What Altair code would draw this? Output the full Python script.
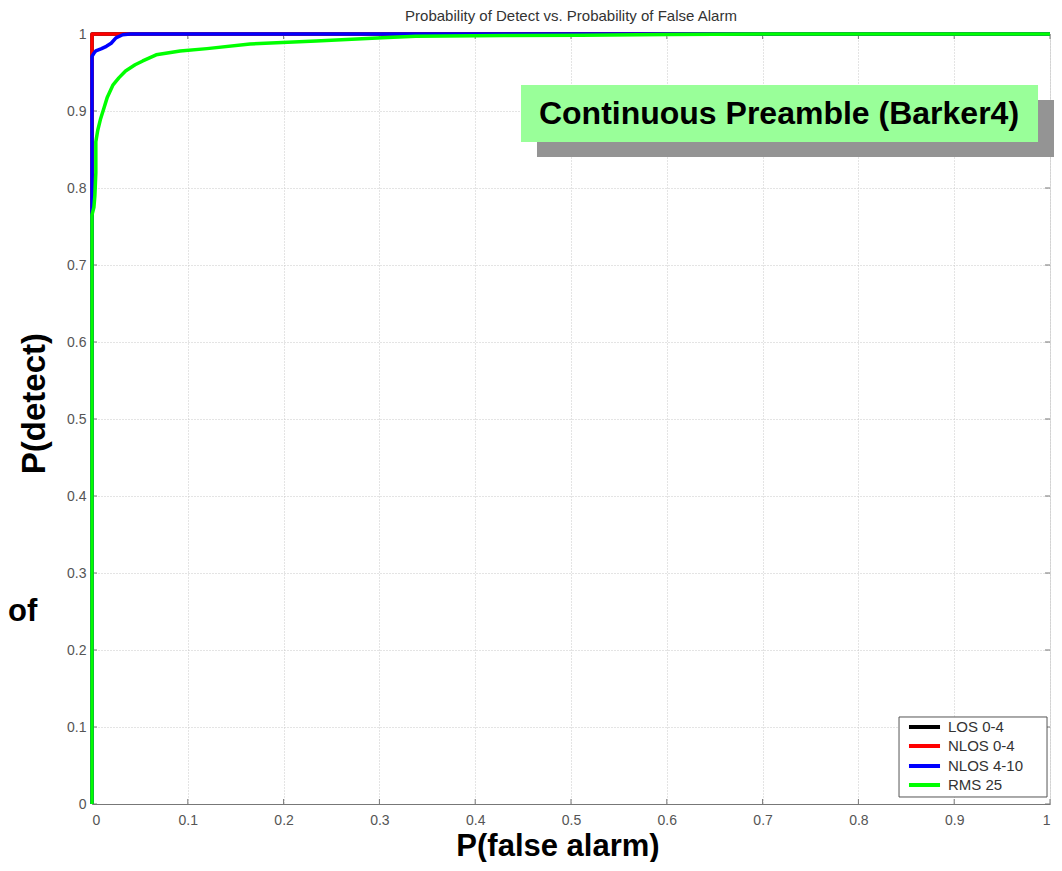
import altair as alt
import pandas as pd

# ---- data ----
los_x = [0.0, 0.0, 1.0]
los_y = [0.0, 1.0, 1.0]

nlos04_x = [0.0, 0.0, 1.0]
nlos04_y = [0.0, 1.0, 1.0]

nlos410_x = [0.0, 0.0, 0.002, 0.004, 0.010, 0.015, 0.020, 0.025, 0.032, 0.040, 0.33, 1.0]
nlos410_y = [0.0, 0.971, 0.975, 0.978, 0.981, 0.984, 0.988, 0.995, 0.999, 1.0, 1.0, 1.0]

rms25_x = [0.0, 0.0, 0.002, 0.003, 0.004, 0.004, 0.006, 0.009, 0.0125, 0.016, 0.022, 0.028,
           0.035, 0.045, 0.053, 0.067, 0.077, 0.092, 0.12, 0.165, 0.234, 0.303, 0.338,
           0.43, 0.51, 0.6, 0.7, 1.0]
rms25_y = [0.0, 0.765, 0.775, 0.79, 0.82, 0.86, 0.875, 0.89, 0.904, 0.918, 0.934, 0.943,
           0.952, 0.960, 0.965, 0.973, 0.975, 0.978, 0.981, 0.987, 0.991, 0.995, 0.997,
           0.998, 0.9985, 0.9995, 1.0, 1.0]

series_names = ["LOS 0-4", "NLOS 0-4", "NLOS 4-10", "RMS 25"]
series_colors = ["#000000", "#ff0000", "#0000ff", "#00ff00"]
series_x = [los_x, nlos04_x, nlos410_x, rms25_x]
series_y = [los_y, nlos04_y, nlos410_y, rms25_y]

tick_values = [0.0, 0.1, 0.2, 0.3, 0.4, 0.5, 0.6, 0.7, 0.8, 0.9, 1.0]

chart_title = "Probability of Detect vs. Probability of False Alarm"
x_title = "P(false alarm)"
y_title = "P(detect)"
box_text = "Continuous Preamble (Barker4)"
stray_text = "of"

# annotation geometry in data units
box = dict(x=0.4478, x2=0.9875, y=0.9338, y2=0.8597)
shadow = dict(x=0.4645, x2=1.0052, y=0.9143, y2=0.8403)
box_label = dict(x=0.7171, y=0.8965)
legend_box = dict(x=0.8424, x2=0.9969, y=0.1130, y2=0.0091)
legend_rows_y = [0.1000, 0.0753, 0.0494, 0.0247]
legend_line_x = (0.8528, 0.8852)
legend_text_x = 0.8935
title_pos = dict(x=0.5, y=1.0169)
x_title_pos = dict(x=0.4864, y=-0.056)
y_title_pos = dict(x=-0.0595, y=0.52)
stray_pos = dict(x=-0.0877, y=0.249)

W, H = 958, 770
xs = alt.Scale(domain=[0, 1], nice=False, zero=False)
ys = alt.Scale(domain=[0, 1], nice=False, zero=False)

label_expr = "datum.value == 0 ? '0' : datum.value == 1 ? '1' : format(datum.value, '.1f')"

# invisible base layer carrying axes + grid
axes_df = pd.DataFrame({"x": tick_values, "y": tick_values})
axes_layer = alt.Chart(axes_df).mark_point(opacity=0).encode(
    x=alt.X("x:Q", scale=xs, title=None,
            axis=alt.Axis(values=tick_values, labelExpr=label_expr, grid=True, ticks=False,
                          domain=True, domainColor="#777", labelPadding=9,
                          labelFontSize=14, labelColor="#555", labelFont="Liberation Sans",
                          gridColor="#c8c8c8", gridDash=[1, 2])),
    y=alt.Y("y:Q", scale=ys, title=None,
            axis=alt.Axis(values=tick_values, labelExpr=label_expr, grid=True, ticks=False,
                          domain=False, labelPadding=6,
                          labelFontSize=14, labelColor="#555", labelFont="Liberation Sans",
                          gridColor="#c8c8c8", gridDash=[1, 2])),
)

# inward ticks (bottom, top, left, right)
tk = 5.0
tick_rows = []
for v in tick_values:
    tick_rows.append(dict(x=v, x2=v, y=0.0, y2=tk / H))
    tick_rows.append(dict(x=v, x2=v, y=1.0, y2=1.0 - tk / H))
    tick_rows.append(dict(x=0.0, x2=tk / W, y=v, y2=v))
    tick_rows.append(dict(x=1.0, x2=1.0 - tk / W, y=v, y2=v))
ticks_layer = alt.Chart(pd.DataFrame(tick_rows)).mark_rule(color="#777", strokeWidth=1).encode(
    x=alt.X("x:Q", scale=xs), x2="x2:Q", y=alt.Y("y:Q", scale=ys), y2="y2:Q"
)

line_layers = []
for name, col, sx, sy in zip(series_names, series_colors, series_x, series_y):
    df = pd.DataFrame({"x": sx, "y": sy, "i": list(range(len(sx)))})
    line_layers.append(
        alt.Chart(df).mark_line(color=col, strokeWidth=3.5, strokeJoin="round").encode(
            x=alt.X("x:Q", scale=xs), y=alt.Y("y:Q", scale=ys), order="i:Q"
        )
    )

# annotation box with shadow
shadow_layer = alt.Chart(pd.DataFrame([shadow])).mark_rect(color="#949494").encode(
    x=alt.X("x:Q", scale=xs), x2="x2:Q", y=alt.Y("y:Q", scale=ys), y2="y2:Q"
)
box_layer = alt.Chart(pd.DataFrame([box])).mark_rect(color="#99ff99").encode(
    x=alt.X("x:Q", scale=xs), x2="x2:Q", y=alt.Y("y:Q", scale=ys), y2="y2:Q"
)
box_text_layer = alt.Chart(pd.DataFrame([dict(box_label, t=box_text)])).mark_text(
    font="Liberation Sans", fontWeight="bold", fontSize=32, color="#000", align="center",
    baseline="middle"
).encode(x=alt.X("x:Q", scale=xs), y=alt.Y("y:Q", scale=ys), text="t:N")

# legend built by hand
leg_box_layer = alt.Chart(pd.DataFrame([legend_box])).mark_rect(
    fill="#ffffff", stroke="#555", strokeWidth=1
).encode(x=alt.X("x:Q", scale=xs), x2="x2:Q", y=alt.Y("y:Q", scale=ys), y2="y2:Q")
leg_df = pd.DataFrame({
    "name": series_names, "color": series_colors, "y": legend_rows_y,
    "x": [legend_line_x[0]] * 4, "x2": [legend_line_x[1]] * 4, "tx": [legend_text_x] * 4,
})
leg_lines = alt.Chart(leg_df).mark_rule(strokeWidth=4).encode(
    x=alt.X("x:Q", scale=xs), x2="x2:Q", y=alt.Y("y:Q", scale=ys),
    color=alt.Color("color:N", scale=None),
)
leg_text = alt.Chart(leg_df).mark_text(
    font="Liberation Sans", fontSize=15, color="#333", align="left", baseline="middle"
).encode(x=alt.X("tx:Q", scale=xs), y=alt.Y("y:Q", scale=ys), text="name:N")

# titles and stray slide text
title_layer = alt.Chart(pd.DataFrame([dict(title_pos, t=chart_title)])).mark_text(
    font="Liberation Sans", fontSize=15, color="#333", align="center", baseline="alphabetic"
).encode(x=alt.X("x:Q", scale=xs), y=alt.Y("y:Q", scale=ys), text="t:N")
x_title_layer = alt.Chart(pd.DataFrame([dict(x_title_pos, t=x_title)])).mark_text(
    font="Liberation Sans", fontWeight="bold", fontSize=31, color="#000",
    align="center", baseline="middle"
).encode(x=alt.X("x:Q", scale=xs), y=alt.Y("y:Q", scale=ys), text="t:N")
y_title_layer = alt.Chart(pd.DataFrame([dict(y_title_pos, t=y_title)])).mark_text(
    font="Liberation Sans", fontWeight="bold", fontSize=33, color="#000",
    align="center", baseline="middle", angle=270
).encode(x=alt.X("x:Q", scale=xs), y=alt.Y("y:Q", scale=ys), text="t:N")
of_layer = alt.Chart(pd.DataFrame([dict(stray_pos, t=stray_text)])).mark_text(
    font="Liberation Sans", fontWeight="bold", fontSize=31, color="#000",
    align="left", baseline="middle"
).encode(x=alt.X("x:Q", scale=xs), y=alt.Y("y:Q", scale=ys), text="t:N")

chart = alt.layer(
    axes_layer, ticks_layer, *line_layers, shadow_layer, box_layer, box_text_layer,
    leg_box_layer, leg_lines, leg_text, title_layer, x_title_layer, y_title_layer, of_layer,
).properties(
    width=W, height=H,
    autosize=alt.AutoSizeParams(type="none"),
    padding={"left": 84, "top": 26, "right": 4, "bottom": 58},
).configure_view(stroke="#888", strokeWidth=1).configure(background="white")

chart.save("out.html", embed_options={"renderer": "svg", "actions": False})
